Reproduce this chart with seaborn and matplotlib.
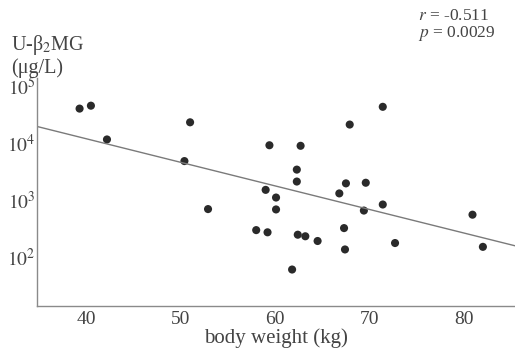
import numpy as np
import pandas as pd
import matplotlib
matplotlib.use('Agg')
import matplotlib.pyplot as plt
import seaborn as sns

# body weight (kg) vs urinary beta2-microglobulin (ug/L)
body_weight = [39.3, 40.5, 42.2, 50.4, 51.0, 52.9, 58.0, 59.0, 59.2, 59.4,
               60.1, 60.1, 61.8, 62.3, 62.3, 62.4, 62.7, 63.2, 64.5, 66.8,
               67.3, 67.4, 67.5, 67.9, 69.4, 69.6, 71.4, 71.4, 72.7, 80.9, 82.0]
u_b2mg = [40000, 45000, 11500, 4800, 23000, 690, 295, 1500, 270, 9100,
          1100, 680, 60, 3400, 2100, 245, 8900, 230, 190, 1300,
          320, 135, 1950, 21000, 650, 2000, 43000, 830, 175, 550, 150]
x_ticks = [40, 50, 60, 70, 80]
y_decades = [2, 3, 4, 5]
stats_text = ['$r$ = -0.511', '$p$ = 0.0029']

df = pd.DataFrame({'weight': body_weight, 'b2mg': u_b2mg})
df['log_b2mg'] = np.log10(df['b2mg'])

sns.set_style('white')
plt.rcParams['font.family'] = ['Liberation Serif', 'DejaVu Serif']
plt.rcParams['mathtext.fontset'] = 'stix'

txt = '#444444'
fig = plt.figure(figsize=(5.15, 3.48), dpi=100)
ax = fig.add_axes([0.072, 0.121, 0.928, 0.655])
# limits first so the fitted line runs across the whole axis
ax.set_xlim(34.8, 85.4)
ax.set_ylim(1.14, 5.14)

sns.regplot(data=df, x='weight', y='log_b2mg', ax=ax, ci=None, truncate=False,
            scatter_kws=dict(s=34, color='#2a2a2a', edgecolor='none', alpha=1),
            line_kws=dict(color='#7a7a7a', lw=1.0))

ax.set_xlim(34.8, 85.4)
ax.set_ylim(1.14, 5.14)
ax.set_xticks(x_ticks)
ax.set_xticklabels([str(t) for t in x_ticks], fontsize=14, color=txt)
ax.set_yticks(y_decades)
ax.set_yticklabels([f'$10^{d}$' for d in y_decades], fontsize=14, color=txt)
ax.tick_params(axis='y', length=3, width=0.8, color='#999999', direction='in', pad=1)
ax.tick_params(axis='x', length=0, pad=4)

sns.despine(ax=ax)
for side in ['left', 'bottom']:
    ax.spines[side].set_color('#8a8a8a')
    ax.spines[side].set_linewidth(1.0)

ax.set_xlabel('body weight (kg)', fontsize=15, color=txt, labelpad=0)
ax.set_ylabel('')

fig.text(0.022, 0.872, 'U-β$_2$MG', fontsize=14.5, color=txt, va='center')
fig.text(0.022, 0.805, '(μg/L)', fontsize=14.5, color=txt, va='center')

fig.text(0.812, 0.955, stats_text[0], fontsize=12.5, color=txt, va='center')
fig.text(0.812, 0.903, stats_text[1], fontsize=12.5, color=txt, va='center')

fig.savefig('out.png', dpi=100)
plt.close(fig)
